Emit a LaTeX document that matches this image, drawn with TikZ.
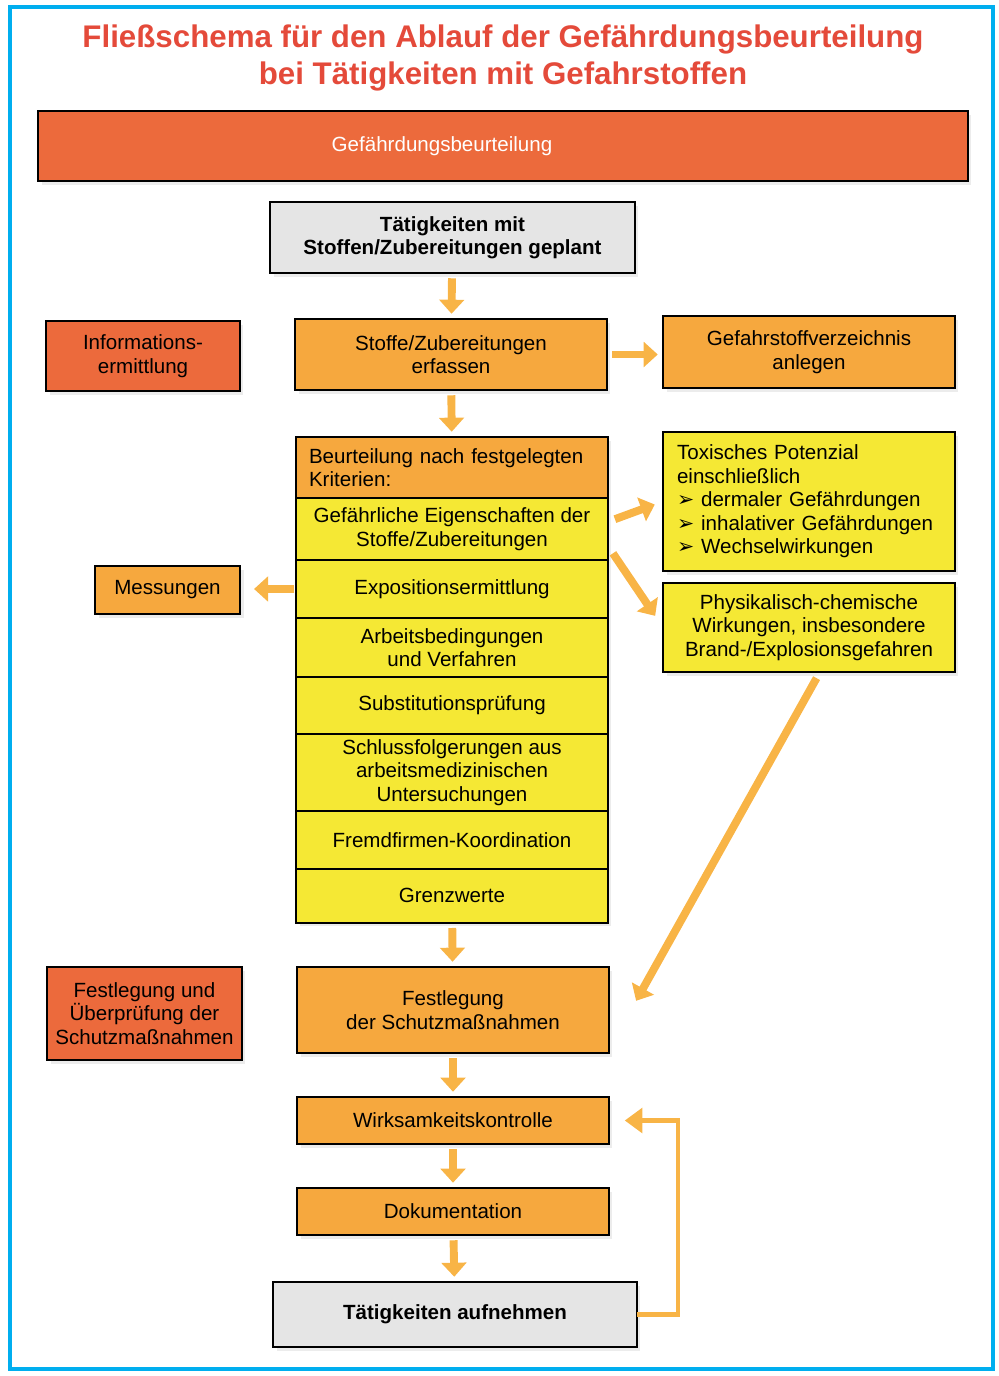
\documentclass[tikz,border=0pt]{standalone}
\usepackage{fontspec}
\setmainfont{Liberation Sans}
\newfontfamily\symfont{DejaVu Sans}
\usetikzlibrary{arrows.meta,positioning,shadows}
\definecolor{framec}{RGB}{0,174,239}
\definecolor{titlec}{RGB}{228,74,58}
\definecolor{redc}{RGB}{236,106,60}
\definecolor{orangec}{RGB}{246,168,62}
\definecolor{yellowc}{RGB}{245,232,52}
\definecolor{grayc}{RGB}{229,229,229}
\definecolor{arrowc}{RGB}{248,180,70}
\newcommand{\tip}{{\symfont\bfseries\char"27A2}\ }

\begin{document}
\begin{tikzpicture}[x=0.02cm, y=-0.02cm, every node/.style={font=\fontsize{11.7}{13.4}\selectfont}, box/.style={draw, line width=1.1pt, align=center, inner sep=3pt, outer sep=0pt, drop shadow={shadow xshift=2pt, shadow yshift=-2pt, opacity=0.15}}, redbox/.style={box, fill=redc}, orangebox/.style={box, fill=orangec}, yellowbox/.style={box, fill=yellowc, minimum width=6.24cm}, graybox/.style={box, fill=grayc, font=\fontsize{11.7}{13.4}\selectfont\bfseries}, arr/.style={draw=arrowc, line width=4.5pt, -{Triangle[length=8pt,width=14pt]}, shorten <=3pt, shorten >=3pt}, backarr/.style={draw=arrowc, line width=2.3pt, -{Triangle[length=10pt,width=14pt]}}]
\useasboundingbox (0,0) rectangle (998,1376);
\draw[framec, line width=2.5pt] (10,7) rectangle (993,1369);
\node[titlec, align=center, font=\fontsize{17.8}{21}\selectfont\bfseries] (title) at (503,58) {Fließschema für den Ablauf der Gefährdungsbeurteilung\\bei Tätigkeiten mit Gefahrstoffen};
\node[redbox, minimum width=18.6cm, minimum height=1.4cm, text=white] (banner) at (503,146) {\hspace*{-2.44cm}Gefährdungsbeurteilung};
\node[graybox, minimum width=7.3cm, minimum height=1.42cm] (plan) at (452.5,237.5) {Tätigkeiten mit\\Stoffen/Zubereitungen geplant};
\node[redbox, minimum width=3.88cm, minimum height=1.4cm] (info) at (143,356) {Informations-\\ermittlung};
\node[orangebox, minimum width=6.24cm, minimum height=1.42cm] (erfassen) at (451,354.5) {Stoffe/Zubereitungen\\erfassen};
\node[orangebox, minimum width=5.84cm, minimum height=1.44cm] (verz) at (809,352) {Gefahrstoffverzeichnis\\anlegen};
\node[orangebox, align=left, inner xsep=0.26cm, text width=5.72cm, minimum height=1.22cm] (head) at (452,467.5) {Beurteilung nach festgelegten\\Kriterien:};
\node[yellowbox, minimum height=1.24cm, below=0pt of head] (gef) {Gefährliche Eigenschaften der\\Stoffe/Zubereitungen};
\node[yellowbox, minimum height=1.16cm, below=0pt of gef] (expo) {Expositionsermittlung};
\node[yellowbox, minimum height=1.18cm, below=0pt of expo] (arb) {Arbeitsbedingungen\\und Verfahren};
\node[yellowbox, minimum height=1.14cm, below=0pt of arb] (subst) {Substitutionsprüfung};
\node[yellowbox, minimum height=1.48cm, below=0pt of subst] (schluss) {Schlussfolgerungen aus\\arbeitsmedizinischen\\Untersuchungen};
\node[yellowbox, minimum height=1.16cm, below=0pt of schluss] (fremd) {Fremdfirmen-Koordination};
\node[yellowbox, minimum height=1.08cm, below=0pt of fremd] (grenz) {Grenzwerte};
\node[orangebox, minimum width=2.9cm, minimum height=0.96cm] (mess) at (167.5,590) {Messungen};
\node[yellowbox, align=left, minimum width=5.84cm, inner xsep=0.28cm, text width=5.28cm, minimum height=2.78cm] (tox) at (809,501.5) {Toxisches Potenzial\\einschließlich\\\tip dermaler Gefährdungen\\\tip inhalativer Gefährdungen\\\tip Wechselwirkungen};
\node[yellowbox, minimum width=5.84cm, minimum height=1.78cm] (phys) at (809,627.5) {Physikalisch-chemische\\Wirkungen, insbesondere\\Brand-/Explosionsgefahren};
\node[redbox, minimum width=3.9cm, minimum height=1.86cm] (festpruef) at (144.5,1013.5) {Festlegung und\\Überprüfung der\\Schutzmaßnahmen};
\node[orangebox, minimum width=6.24cm, minimum height=1.72cm] (fest) at (453,1010) {Festlegung\\der Schutzmaßnahmen};
\node[orangebox, minimum width=6.24cm, minimum height=0.94cm] (wirk) at (453,1120.5) {Wirksamkeitskontrolle};
\node[orangebox, minimum width=6.24cm, minimum height=0.94cm] (doku) at (453,1211.5) {Dokumentation};
\node[graybox, minimum width=7.28cm, minimum height=1.3cm] (aufn) at (455,1314.5) {Tätigkeiten aufnehmen};
\draw[arr] (plan) -- (erfassen);
\draw[arr] (erfassen) -- (head);
\draw[arr] (erfassen.east) -- (erfassen.east -| verz.west);
\draw[arr, shorten <=1pt, shorten >=8pt] (expo.west) -- (expo.west -| mess.east);
\draw[arr, shorten >=5pt] ([shift={(2,-8)}]gef.east) -- (tox.west);
\draw[arr, shorten >=8pt] ([shift={(2,20)}]gef.east) -- (phys.west);
\draw[arr, shorten <=4pt, shorten >=6pt] ([shift={(11,0)}]phys.south) -- ([shift={(22,0)}]fest.east);
\draw[arr] (grenz) -- (fest);
\draw[arr] (fest) -- (wirk);
\draw[arr] (wirk) -- (doku);
\draw[arr] (doku) -- (aufn);
\draw[backarr, shorten >=9pt] (aufn.east) -- ++(41,0) |- (wirk.east);
\end{tikzpicture}
\end{document}
